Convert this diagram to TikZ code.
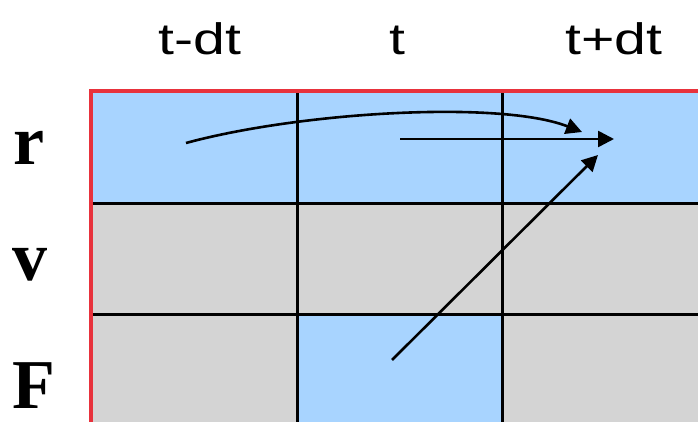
\documentclass[tikz,border=0pt]{standalone}
\usepackage{fontspec}
\setmainfont{Liberation Serif}
\setsansfont{Liberation Sans}
\usetikzlibrary{arrows.meta,positioning}
\definecolor{cellblue}{HTML}{A8D4FF}
\definecolor{cellgrey}{HTML}{D4D4D4}
\definecolor{edgered}{HTML}{E8323C}
\newcommand{\steplbl}[1]{\scalebox{1.3}[1]{#1}}

\begin{document}
\begin{tikzpicture}[
  x=1pt, y=-1pt,
  collbl/.style={font=\sffamily\fontsize{44}{48}\selectfont, anchor=base, inner sep=0pt},
  rowlbl/.style={font=\rmfamily\bfseries\fontsize{70}{74}\selectfont, anchor=base, inner sep=0pt},
  gridline/.style={black, line width=3pt},
  flow/.style={-{Triangle[length=16pt,width=16pt]}, black, line width=2.6pt},
]
\useasboundingbox (0,0) rectangle (698,422);

% ---------------- cells ---------------------------------------------
\fill[cellblue] (91,91) rectangle (700,203);
\fill[cellgrey] (91,203) rectangle (700,424);
\fill[cellblue] (297,314) rectangle (502,424);

% ---------------- grid ----------------------------------------------
\foreach \x in {297,502}
  \draw[gridline] (\x,91) -- (\x,424);
\foreach \y in {203,314}
  \draw[gridline] (91,\y) -- (700,\y);
\draw[edgered, line width=3.2pt] (91,424) -- (91,91) -- (700,91);

% ---------------- labels --------------------------------------------
\node[collbl] (tprev) at (200,55) {\steplbl{t-dt}};
\node[collbl] (tnow)  at (397,55) {\steplbl{t}};
\node[collbl] (tnext) at (614,55) {\steplbl{t+dt}};

\node[rowlbl] (lr) at (29,165) {r};
\node[rowlbl] (lv) at (30,280) {v};
\node[rowlbl] (lF) at (34,408) {F};

% ---------------- updates -------------------------------------------
\coordinate (rprev) at (186,143);
\coordinate (rnow)  at (400,139);
\coordinate (fnow)  at (392,360);
\coordinate (rmid)  at (582,132);
\coordinate (rnext) at (614,139);
\coordinate (rdiag) at (598,155);

\draw[flow] (rprev) .. controls (300,112) and (500,100) .. (rmid);
\draw[flow] (rnow) -- (rnext);
\draw[flow] (fnow) -- (rdiag);

\end{tikzpicture}
\end{document}
